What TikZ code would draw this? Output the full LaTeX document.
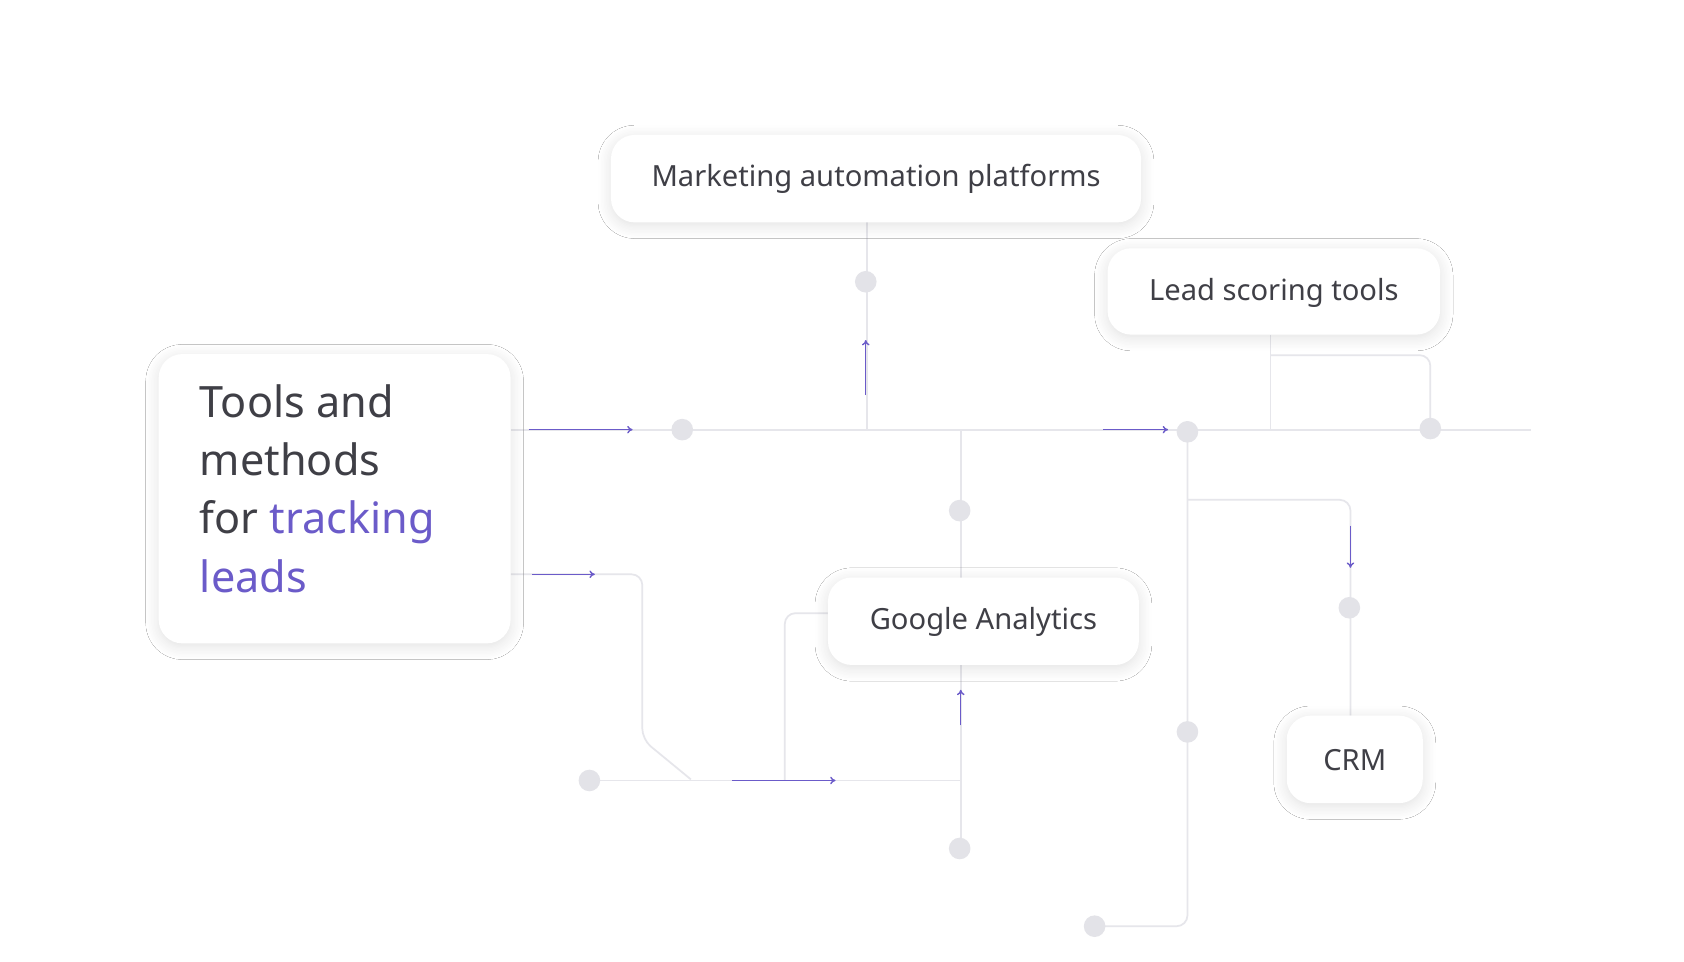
\documentclass[tikz,border=0pt]{standalone}
\usepackage{fontspec}
\setmainfont{Noto Sans}
\usetikzlibrary{shadows.blur,arrows.meta}
\definecolor{ln}{HTML}{E6E6EB}
\definecolor{dt}{HTML}{E3E3E8}
\definecolor{pu}{HTML}{6B5BC9}
\definecolor{tx}{HTML}{3F3F46}
\tikzset{
 card/.style={fill=white,rounded corners=22pt,blur shadow={shadow xshift=0pt,shadow yshift=-3pt,shadow blur steps=10,shadow opacity=12,shadow blur radius=12pt}},
 wire/.style={draw=ln,line width=1.6pt,rounded corners=10pt},
 arr/.style={draw=pu,line width=1.3pt,-{To[length=5pt,width=7pt]}},
 dotc/.style={circle,fill=dt,minimum size=20pt,inner sep=0pt},
 lbl/.style={text=tx,font=\fontsize{27}{32}\selectfont}
}
\begin{document}
\begin{tikzpicture}[x=1pt,y=-1pt]
\useasboundingbox[fill=white] (0,0) rectangle (1560,891);
% wires
\draw[wire] (473,398) -- (1418,398);
\draw[wire] (803,206) -- (803,398);
\draw[wire] (890,398) -- (890,535);
\draw[wire] (1177,310) -- (1177,398);
\draw[wire] (1177,329) -- (1325,329) -- (1325,398);
\draw[wire] (1100,398) -- (1100,858) -- (1014,858);
\draw[wire] (1100,463) -- (1251,463) -- (1251,663);
\draw[wire] (473,532) -- (595,532) -- (595,685) -- (640,722);
\draw[wire] (546,723) -- (890,723);
\draw[wire] (727,723) -- (727,568) -- (767,568);
\draw[wire] (890,616) -- (890,787);
% dots
\node[dotc] (d1) at (632,398) {};
\node[dotc] (d2) at (802,261) {};
\node[dotc] (d3) at (889,473) {};
\node[dotc] (d4) at (1100,400) {};
\node[dotc] (d5) at (1325,397) {};
\node[dotc] (d6) at (1250,563) {};
\node[dotc] (d7) at (1100,678) {};
\node[dotc] (d8) at (1014,858) {};
\node[dotc] (d9) at (546,723) {};
\node[dotc] (d10) at (889,786) {};
% arrows
\coordinate (a1s) at (490,398); \coordinate (a1e) at (586,398);
\draw[arr] (a1s) -- (a1e);
\coordinate (a2s) at (1022,398); \coordinate (a2e) at (1082,398);
\draw[arr] (a2s) -- (a2e);
\coordinate (a3s) at (802,366); \coordinate (a3e) at (802,315);
\draw[arr] (a3s) -- (a3e);
\coordinate (a4s) at (1251,487); \coordinate (a4e) at (1251,526);
\draw[arr] (a4s) -- (a4e);
\coordinate (a5s) at (493,532); \coordinate (a5e) at (551,532);
\draw[arr] (a5s) -- (a5e);
\coordinate (a6s) at (678,723); \coordinate (a6e) at (774,723);
\draw[arr] (a6s) -- (a6e);
\coordinate (a7s) at (890,672); \coordinate (a7e) at (890,639);
\draw[arr] (a7s) -- (a7e);
% cards
\path[card] (147,328) rectangle (473,596);
\node[anchor=north west,text=tx,font=\bfseries\fontsize{40}{54}\selectfont,align=left,inner sep=0pt] (title) at (185,356) {Tools and\\methods\\for \textcolor{pu}{tracking}\\\textcolor{pu}{leads}};
\path[card] (566,125) rectangle (1057,206);
\node[lbl] (map) at (811.5,166) {Marketing automation platforms};
\path[card] (1026,230) rectangle (1334,310);
\node[lbl] (lst) at (1180,271) {Lead scoring tools};
\path[card] (767,535) rectangle (1055,616);
\node[lbl] (ga) at (911,576) {Google Analytics};
\path[card] (1192,663) rectangle (1318,744);
\node[lbl] (crm) at (1255,704) {CRM};
\end{tikzpicture}
\end{document}
